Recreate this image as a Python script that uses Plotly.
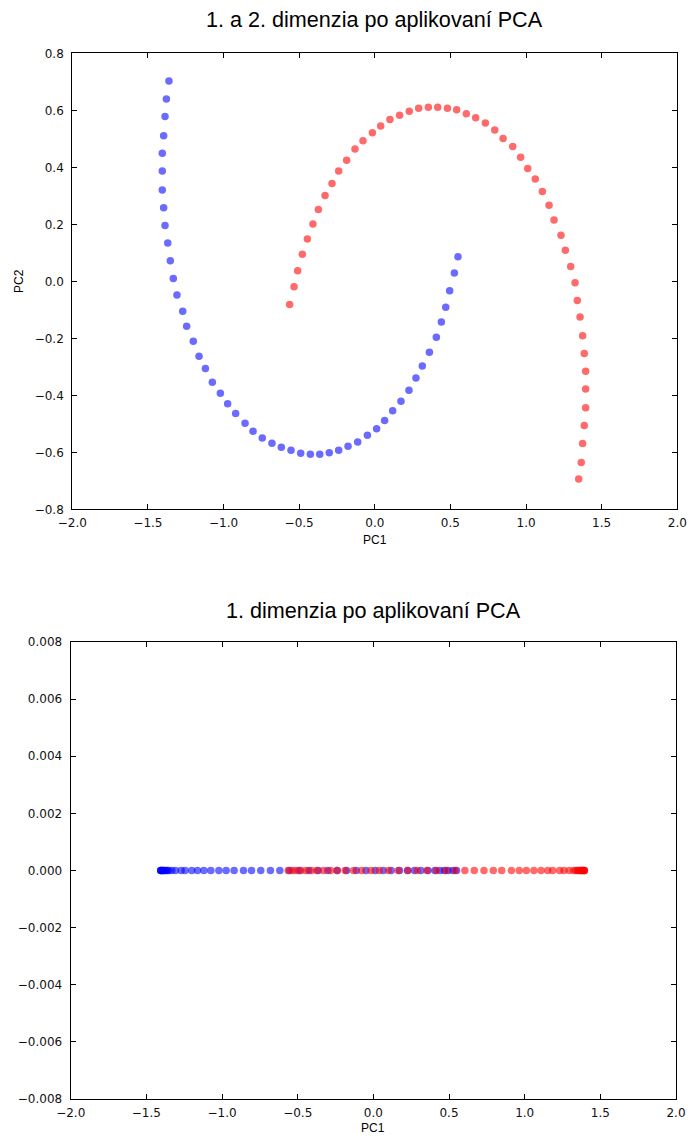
import plotly.graph_objects as go

# ---- data ----
blue_pc1 = [-1.361, -1.378, -1.387, -1.396, -1.405, -1.405, -1.405, -1.396, -1.387, -1.369,
            -1.352, -1.332, -1.308, -1.270, -1.244, -1.200, -1.162, -1.120, -1.074, -1.021,
            -0.973, -0.920, -0.858, -0.805, -0.744, -0.680, -0.618, -0.554, -0.490, -0.426,
            -0.364, -0.301, -0.239, -0.177, -0.113, -0.049, 0.012, 0.065, 0.118, 0.173,
            0.226, 0.272, 0.314, 0.361, 0.407, 0.440, 0.469, 0.495, 0.526, 0.550]
blue_pc2 = [0.703, 0.640, 0.578, 0.511, 0.449, 0.387, 0.320, 0.258, 0.196, 0.134,
            0.072, 0.010, -0.048, -0.105, -0.158, -0.210, -0.263, -0.306, -0.354, -0.393,
            -0.430, -0.464, -0.498, -0.526, -0.550, -0.568, -0.582, -0.593, -0.603, -0.607,
            -0.607, -0.602, -0.593, -0.579, -0.564, -0.540, -0.517, -0.488, -0.454, -0.421,
            -0.382, -0.339, -0.297, -0.249, -0.196, -0.143, -0.091, -0.033, 0.029, 0.086]
red_pc1 = [-0.563, -0.534, -0.510, -0.479, -0.446, -0.409, -0.373, -0.329, -0.283, -0.239,
           -0.186, -0.131, -0.078, -0.016, 0.039, 0.100, 0.164, 0.228, 0.290, 0.354,
           0.416, 0.480, 0.541, 0.605, 0.667, 0.731, 0.793, 0.848, 0.912, 0.964,
           1.011, 1.061, 1.108, 1.152, 1.185, 1.231, 1.260, 1.295, 1.324, 1.339,
           1.357, 1.374, 1.385, 1.394, 1.394, 1.394, 1.385, 1.374, 1.365, 1.348]
red_pc2 = [-0.081, -0.019, 0.037, 0.095, 0.148, 0.201, 0.252, 0.301, 0.343, 0.387,
           0.425, 0.464, 0.493, 0.521, 0.545, 0.568, 0.583, 0.597, 0.607, 0.611,
           0.611, 0.607, 0.602, 0.588, 0.574, 0.555, 0.531, 0.501, 0.473, 0.435,
           0.396, 0.359, 0.315, 0.267, 0.215, 0.162, 0.109, 0.052, -0.005, -0.067,
           -0.125, -0.191, -0.253, -0.316, -0.378, -0.444, -0.506, -0.569, -0.636, -0.694]
blue_1d = [0.0] * len(blue_pc1)
red_1d = [0.0] * len(red_pc1)

x_ticks = [-2.0, -1.5, -1.0, -0.5, 0.0, 0.5, 1.0, 1.5, 2.0]
y1_ticks = [-0.8, -0.6, -0.4, -0.2, 0.0, 0.2, 0.4, 0.6, 0.8]
y2_ticks = [-0.008, -0.006, -0.004, -0.002, 0.000, 0.002, 0.004, 0.006, 0.008]

title_top = "1. a 2. dimenzia po aplikovaní PCA"
title_bottom = "1. dimenzia po aplikovaní PCA"

W, H = 689, 1137
BLUE = "rgba(0,0,255,0.58)"
RED = "rgba(255,0,0,0.58)"
MS = 7.5


def fx(px):
    return px / W


def fy(py):
    return 1 - py / H


fig = go.Figure()
fig.add_trace(go.Scatter(x=blue_pc1, y=blue_pc2, mode="markers", xaxis="x", yaxis="y",
                         marker=dict(color=BLUE, size=MS), showlegend=False))
fig.add_trace(go.Scatter(x=red_pc1, y=red_pc2, mode="markers", xaxis="x", yaxis="y",
                         marker=dict(color=RED, size=MS), showlegend=False))
fig.add_trace(go.Scatter(x=blue_pc1, y=blue_1d, mode="markers", xaxis="x2", yaxis="y2",
                         marker=dict(color=BLUE, size=MS), showlegend=False))
fig.add_trace(go.Scatter(x=red_pc1, y=red_1d, mode="markers", xaxis="x2", yaxis="y2",
                         marker=dict(color=RED, size=MS), showlegend=False))

tickfont = dict(family="DejaVu Sans", size=12, color="#111")
common = dict(showgrid=False, zeroline=False, showline=True, linecolor="black", linewidth=1.2,
              mirror="ticks", ticks="inside", ticklen=5, tickwidth=1, tickcolor="black",
              tickfont=tickfont, automargin=False)

top_dom_x = [fx(72.3), fx(677.3)]
top_dom_y = [fy(509.3), fy(53.3)]
bot_dom_x = [fx(70.7), fx(676.0)]
bot_dom_y = [fy(1099.0), fy(642.0)]

fig.update_layout(
    width=W, height=H,
    margin=dict(l=0, r=0, t=0, b=0),
    paper_bgcolor="white", plot_bgcolor="white",
    xaxis=dict(domain=top_dom_x, range=[-2, 2], tickvals=x_ticks, tickformat=".1f",
               anchor="y", ticklabelstandoff=2, **common),
    yaxis=dict(domain=top_dom_y, range=[-0.8, 0.8], tickvals=y1_ticks, tickformat=".1f",
               anchor="x", ticklabelstandoff=5, **common),
    xaxis2=dict(domain=bot_dom_x, range=[-2, 2], tickvals=x_ticks, tickformat=".1f",
                anchor="y2", ticklabelstandoff=2, **common),
    yaxis2=dict(domain=bot_dom_y, range=[-0.008, 0.008], tickvals=y2_ticks, tickformat=".3f",
                anchor="x2", ticklabelstandoff=5, **common),
)

lab_font = dict(family="Liberation Sans", size=12, color="black")
ttl_font = dict(family="Liberation Sans", size=21.6, color="black")

annots = [
    dict(text=title_top, x=fx((72.3 + 677.3) / 2), y=fy(19), font=ttl_font),
    dict(text=title_bottom, x=fx((70.7 + 676) / 2), y=fy(610), font=ttl_font),
    dict(text="PC1", x=fx((72.3 + 677.3) / 2), y=fy(540), font=lab_font),
    dict(text="PC1", x=fx((70.7 + 676) / 2), y=fy(1128), font=lab_font),
    dict(text="PC2", x=fx(19), y=fy(281), font=lab_font, textangle=-90),
]
for a in annots:
    fig.add_annotation(xref="paper", yref="paper", showarrow=False,
                       xanchor="center", yanchor="middle", **a)

fig.write_html(
    "out.html",
    config={"displayModeBar": False},
    post_script="document.body.style.margin='0';document.body.style.padding='0';"
                "document.documentElement.style.overflow='hidden';",
)
